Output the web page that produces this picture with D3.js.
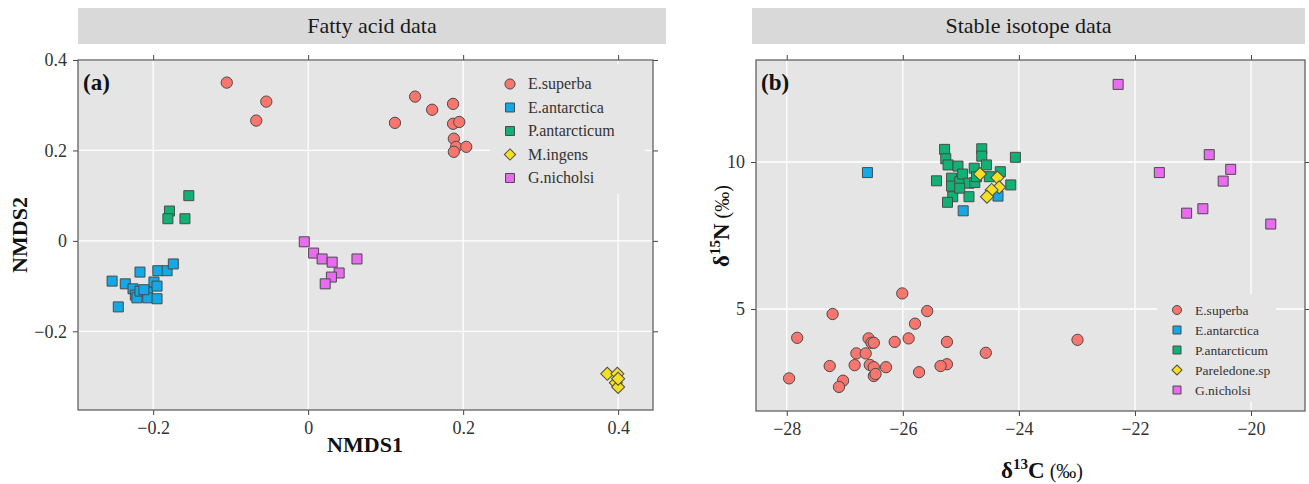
<!DOCTYPE html>
<html>
<head>
<meta charset="utf-8">
<script src="https://cdn.jsdelivr.net/npm/d3@7"></script>
<style>
  body { margin: 0; background: #fff; }
  text { font-family: "Liberation Serif", serif; }
</style>
</head>
<body>
<svg id="chart" width="1309" height="484"></svg>
<script>
// ---- panel (a): fatty acid NMDS scores ----
const faSpecies = ["E.superba", "E.antarctica", "P.antarcticum", "M.ingens", "G.nicholsi"];
const faSuperba = [[-0.105,0.350],[-0.054,0.308],[-0.067,0.266],[0.112,0.261],[0.138,0.319],[0.160,0.290],
  [0.187,0.303],[0.187,0.259],[0.195,0.263],[0.188,0.226],[0.191,0.208],[0.204,0.208],[0.188,0.197]];
const faAntarctica = [[-0.253,-0.089],[-0.245,-0.146],[-0.236,-0.095],[-0.226,-0.106],[-0.223,-0.120],
  [-0.221,-0.126],[-0.217,-0.069],[-0.217,-0.111],[-0.207,-0.113],[-0.207,-0.126],[-0.199,-0.091],
  [-0.195,-0.100],[-0.194,-0.066],[-0.195,-0.128],[-0.182,-0.066],[-0.174,-0.051],[-0.212,-0.108]];
const faAntarcticum = [[-0.154,0.100],[-0.179,0.066],[-0.181,0.049],[-0.159,0.049]];
const faIngens = [[0.386,-0.294],[0.399,-0.294],[0.397,-0.314],[0.400,-0.323],[0.400,-0.305]];
const faNicholsi = [[-0.005,-0.002],[0.007,-0.027],[0.018,-0.040],[0.031,-0.047],[0.063,-0.040],
  [0.040,-0.071],[0.030,-0.080],[0.022,-0.095]];
const faXTicks = [-0.2, 0, 0.2, 0.4];
const faYTicks = [-0.2, 0, 0.2, 0.4];

// ---- panel (b): stable isotopes ----
const siSpecies = ["E.superba", "E.antarctica", "P.antarcticum", "Pareledone.sp", "G.nicholsi"];
const siSuperba = [[-26.01,5.53],[-25.58,4.93],[-27.21,4.83],[-25.79,4.50],[-27.82,4.02],[-26.59,4.00],
  [-25.90,4.00],[-26.54,3.85],[-26.50,3.85],[-26.14,3.88],[-25.24,3.88],[-26.80,3.49],[-26.64,3.49],
  [-24.57,3.51],[-27.26,3.06],[-26.83,3.09],[-26.57,3.10],[-26.50,3.02],[-26.29,3.02],[-25.24,3.12],
  [-25.35,3.06],[-25.72,2.85],[-26.50,2.72],[-26.47,2.79],[-27.96,2.64],[-27.03,2.56],[-27.10,2.35],
  [-22.99,3.95]];
const siAntarctica = [[-26.61,9.64],[-24.96,8.34],[-24.36,8.84]];
const siAntarcticum = [[-25.28,10.43],[-25.26,10.11],[-25.22,9.90],[-25.05,9.86],[-25.42,9.36],
  [-25.16,9.45],[-25.16,9.18],[-25.02,9.33],[-24.97,9.59],[-24.86,9.28],[-24.76,9.30],[-24.77,9.79],
  [-24.64,10.45],[-24.64,10.20],[-24.56,9.90],[-24.51,9.50],[-24.32,9.67],[-24.14,9.22],[-24.06,10.16],
  [-24.86,8.82],[-25.14,8.82],[-25.23,8.63],[-25.02,9.11],[-24.73,9.50]];
const siPareledone = [[-24.67,9.59],[-24.37,9.47],[-24.34,9.14],[-24.47,9.05],[-24.55,8.82]];
const siNicholsi = [[-22.29,12.64],[-20.72,10.25],[-20.35,9.75],[-21.58,9.64],[-20.48,9.35],
  [-20.83,8.41],[-21.11,8.26],[-19.66,7.89]];
const siXTicks = [-28, -26, -24, -22, -20];
const siYTicks = [5, 10];

const colors = ["#F8766D", "#13A8E6", "#12B074", "#F4E01E", "#E86BF0"];
const shapes = ["circle", "square", "square", "diamond", "square"];

const svg = d3.select("#chart");
const panelBg = "#E5E5E5";

function symbolPath(shape) {
  if (shape === "circle") return d3.symbol(d3.symbolCircle, 100)();
  if (shape === "diamond") return d3.symbol(d3.symbolSquare, 85)();
  return d3.symbol(d3.symbolSquare, 100)();
}

function drawPanel(cfg) {
  const x = d3.scaleLinear().domain(cfg.xDomain).range([cfg.left, cfg.right]);
  const y = d3.scaleLinear().domain(cfg.yDomain).range([cfg.bottom, cfg.top]);

  // strip
  svg.append("rect").attr("x", cfg.stripX0).attr("y", 8)
    .attr("width", cfg.stripX1 - cfg.stripX0).attr("height", 36).attr("fill", "#D9D9D9");
  svg.append("text").attr("x", (cfg.stripX0 + cfg.stripX1) / 2).attr("y", 33)
    .attr("text-anchor", "middle").attr("font-size", 22).attr("fill", "#1a1a1a").text(cfg.title);

  // panel
  svg.append("rect").attr("x", cfg.left).attr("y", cfg.top)
    .attr("width", cfg.right - cfg.left).attr("height", cfg.bottom - cfg.top).attr("fill", panelBg);

  const grid = svg.append("g").attr("stroke", "#fff").attr("stroke-width", 1.3);
  cfg.xTicks.forEach(t => grid.append("line").attr("x1", x(t)).attr("x2", x(t))
    .attr("y1", cfg.top).attr("y2", cfg.bottom));
  cfg.yTicks.forEach(t => grid.append("line").attr("y1", y(t)).attr("y2", y(t))
    .attr("x1", cfg.left).attr("x2", cfg.right));

  // axes
  const fmt = cfg.fmt;
  const axes = [
    [d3.axisBottom(x).tickValues(cfg.xTicks).tickFormat(fmt), `translate(0,${cfg.bottom})`],
    [d3.axisLeft(y).tickValues(cfg.yTicks).tickFormat(fmt), `translate(${cfg.left},0)`],
    [d3.axisTop(x).tickValues(cfg.xTicks).tickFormat(""), `translate(0,${cfg.top})`],
    [d3.axisRight(y).tickValues(cfg.yTicks).tickFormat(""), `translate(${cfg.right},0)`]
  ];
  axes.forEach(([ax, tr]) => {
    const g = svg.append("g").attr("transform", tr)
      .call(ax.tickSize(5).tickPadding(6));
    g.select(".domain").remove();
    g.selectAll(".tick line").attr("stroke", "#444");
    g.selectAll(".tick text").attr("font-family", "Liberation Serif")
      .attr("font-size", 18).attr("fill", "#333");
  });

  svg.append("rect").attr("x", cfg.left).attr("y", cfg.top)
    .attr("width", cfg.right - cfg.left).attr("height", cfg.bottom - cfg.top)
    .attr("fill", "none").attr("stroke", "#555").attr("stroke-width", 1.2);

  // legend box (covers grid)
  const lg = cfg.legend;
  svg.append("rect").attr("x", lg.x0).attr("y", lg.y0)
    .attr("width", lg.x1 - lg.x0).attr("height", lg.y1 - lg.y0).attr("fill", panelBg);

  // points
  cfg.series.forEach((pts, i) => {
    svg.append("g").selectAll("path").data(pts).join("path")
      .attr("d", symbolPath(shapes[i]))
      .attr("transform", d => `translate(${x(d[0])},${y(d[1])})` + (shapes[i] === "diamond" ? " rotate(45)" : ""))
      .attr("fill", colors[i]).attr("stroke", "#4a4a4a").attr("stroke-width", 1);
  });

  // legend entries
  cfg.names.forEach((name, i) => {
    const cy = lg.rowY + i * lg.step;
    svg.append("path")
      .attr("d", shapes[i] === "circle" ? d3.symbol(d3.symbolCircle, lg.sym)() :
        d3.symbol(d3.symbolSquare, shapes[i] === "diamond" ? lg.sym * 0.8 : lg.sym)())
      .attr("transform", `translate(${lg.symX},${cy})` + (shapes[i] === "diamond" ? " rotate(45)" : ""))
      .attr("fill", colors[i]).attr("stroke", "#4a4a4a").attr("stroke-width", 1);
    svg.append("text").attr("x", lg.textX).attr("y", cy + lg.fs * 0.34)
      .attr("font-size", lg.fs).attr("fill", "#333").text(name);
  });

  // panel tag
  svg.append("text").attr("x", cfg.left + 5).attr("y", cfg.top + 30)
    .attr("font-size", 23).attr("font-weight", "bold").attr("fill", "#111").text(cfg.tag);
}

const fmtA = d => d === 0 ? "0" : d3.format(".1f")(d);
const fmtB = d => d3.format("d")(d);

drawPanel({
  title: "Fatty acid data", tag: "(a)",
  stripX0: 78, stripX1: 666,
  left: 78, right: 653, top: 60, bottom: 410,
  xDomain: [-0.297, 0.445], yDomain: [-0.374, 0.4],
  xTicks: faXTicks, yTicks: faYTicks, fmt: fmtA,
  series: [faSuperba, faAntarctica, faAntarcticum, faIngens, faNicholsi],
  names: faSpecies,
  legend: { x0: 490, x1: 645, y0: 64, y1: 194, symX: 510, textX: 528, rowY: 84, step: 23.5, fs: 16, sym: 80 }
});

drawPanel({
  title: "Stable isotope data", tag: "(b)",
  stripX0: 752, stripX1: 1305,
  left: 756, right: 1305, top: 60, bottom: 411,
  xDomain: [-28.53, -19.07], yDomain: [1.53, 13.47],
  xTicks: siXTicks, yTicks: siYTicks, fmt: fmtB,
  series: [siSuperba, siAntarctica, siAntarcticum, siPareledone, siNicholsi],
  names: siSpecies,
  legend: { x0: 1157, x1: 1276, y0: 294, y1: 402, symX: 1177, textX: 1195, rowY: 310, step: 20, fs: 13.5, sym: 64 }
});

// axis titles
svg.append("text").attr("x", 365).attr("y", 452).attr("text-anchor", "middle")
  .attr("font-size", 22).attr("font-weight", "bold").attr("fill", "#111").text("NMDS1");
svg.append("text").attr("transform", "translate(27,235) rotate(-90)").attr("text-anchor", "middle")
  .attr("font-size", 22).attr("font-weight", "bold").attr("fill", "#111").text("NMDS2");

const xt = svg.append("text").attr("x", 1042).attr("y", 478).attr("text-anchor", "middle")
  .attr("font-size", 23).attr("fill", "#111");
xt.append("tspan").attr("font-weight", "bold").text("δ");
xt.append("tspan").attr("font-weight", "bold").attr("font-size", 15).attr("dy", -9).text("13");
xt.append("tspan").attr("font-weight", "bold").attr("dy", 9).text("C");
xt.append("tspan").attr("font-size", 20).text(" (‰)");

const yt = svg.append("text").attr("transform", "translate(729,226) rotate(-90)").attr("text-anchor", "middle")
  .attr("font-size", 23).attr("fill", "#111");
yt.append("tspan").attr("font-weight", "bold").text("δ");
yt.append("tspan").attr("font-weight", "bold").attr("font-size", 15).attr("dy", -9).text("15");
yt.append("tspan").attr("font-weight", "bold").attr("dy", 9).text("N");
yt.append("tspan").attr("font-size", 20).text(" (‰)");
</script>
</body>
</html>
